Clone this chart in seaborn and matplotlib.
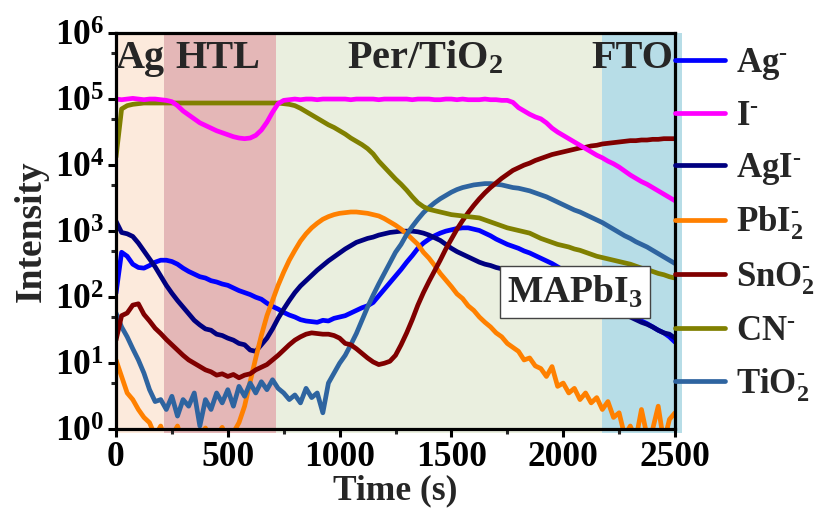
import numpy as np
import pandas as pd
import matplotlib
matplotlib.use("Agg")
import matplotlib.pyplot as plt
import seaborn as sns
from matplotlib.lines import Line2D
from matplotlib.ticker import FixedLocator, FixedFormatter, MultipleLocator

# ---- depth-profile data: sputter time (s) and log10 of secondary-ion counts ----
time_s = np.arange(0, 2501, 25)

log_ag = [2.06, 2.68, 2.62, 2.50, 2.45, 2.44, 2.48, 2.53, 2.56, 2.56,
          2.54, 2.50, 2.44, 2.39, 2.35, 2.31, 2.29, 2.25, 2.23, 2.20,
          2.18, 2.14, 2.10, 2.07, 2.04, 2.00, 1.97, 1.91, 1.86, 1.82,
          1.77, 1.73, 1.70, 1.66, 1.64, 1.63, 1.62, 1.65, 1.64, 1.68,
          1.70, 1.72, 1.76, 1.80, 1.84, 1.87, 1.92, 2.02, 2.12, 2.22,
          2.32, 2.42, 2.53, 2.63, 2.74, 2.82, 2.88, 2.93, 2.97, 3.00,
          3.02, 3.04, 3.05, 3.05, 3.03, 3.01, 2.97, 2.93, 2.88, 2.84,
          2.80, 2.77, 2.74, 2.70, 2.67, 2.63, 2.59, 2.55, 2.51, 2.46,
          2.41, 2.35, 2.29, 2.23, 2.17, 2.11, 2.05, 1.99, 1.93, 1.87,
          1.82, 1.77, 1.72, 1.68, 1.64, 1.60, 1.55, 1.50, 1.46, 1.40,
          1.32]

log_i = [5.00, 4.99, 5.00, 5.01, 5.00, 4.99, 5.00, 5.00, 4.99, 4.98,
         4.96, 4.90, 4.82, 4.76, 4.70, 4.64, 4.60, 4.56, 4.52, 4.49,
         4.46, 4.43, 4.41, 4.40, 4.41, 4.45, 4.53, 4.65, 4.80, 4.93,
         4.98, 4.99, 5.00, 4.99, 5.00, 5.00, 4.99, 5.00, 5.00, 5.00,
         5.00, 5.00, 4.99, 5.00, 5.00, 5.00, 5.00, 4.99, 5.00, 5.00,
         5.00, 5.00, 5.00, 4.99, 5.00, 5.00, 5.00, 4.99, 4.99, 5.00,
         5.00, 4.99, 5.00, 4.99, 4.99, 4.99, 5.00, 4.99, 4.99, 4.98,
         4.98, 4.95, 4.87, 4.82, 4.77, 4.73, 4.70, 4.64, 4.56, 4.50,
         4.45, 4.40, 4.35, 4.30, 4.25, 4.20, 4.15, 4.11, 4.06, 4.02,
         3.97, 3.91, 3.85, 3.80, 3.75, 3.71, 3.66, 3.61, 3.56, 3.51,
         3.46]

log_agi = [3.15, 2.98, 2.96, 2.92, 2.82, 2.70, 2.58, 2.46, 2.32, 2.18,
           2.06, 1.95, 1.85, 1.75, 1.65, 1.58, 1.52, 1.50, 1.44, 1.42,
           1.38, 1.35, 1.30, 1.28, 1.20, 1.18, 1.28, 1.38, 1.52, 1.68,
           1.82, 1.95, 2.07, 2.17, 2.25, 2.33, 2.41, 2.48, 2.55, 2.61,
           2.67, 2.73, 2.78, 2.83, 2.86, 2.89, 2.91, 2.94, 2.96, 2.98,
           2.99, 3.00, 3.00, 3.00, 2.99, 2.97, 2.94, 2.90, 2.86, 2.80,
           2.74, 2.69, 2.65, 2.61, 2.57, 2.53, 2.50, 2.48, 2.45, 2.43,
           2.41, 2.38, 2.35, 2.32, 2.29, 2.26, 2.22, 2.19, 2.15, 2.12,
           2.08, 2.05, 2.02, 1.98, 1.95, 1.92, 1.88, 1.85, 1.82, 1.79,
           1.76, 1.73, 1.70, 1.66, 1.62, 1.59, 1.55, 1.50, 1.46, 1.44,
           1.38]

log_pbi2 = [1.05, 0.80, 0.55, 0.45, 0.30, 0.18, 0.10, -0.10, 0.05, -0.20,
            -0.10, 0.05, -0.20, -0.10, -0.30, -0.10, 0.02, -0.20, -0.10, 0.03,
            -0.20, -0.05, 0.10, 0.35, 0.72, 1.08, 1.42, 1.72, 1.95, 2.18,
            2.38, 2.56, 2.71, 2.85, 2.96, 3.05, 3.12, 3.18, 3.22, 3.25,
            3.27, 3.28, 3.29, 3.29, 3.28, 3.27, 3.25, 3.23, 3.19, 3.14,
            3.09, 3.03, 2.96, 2.88, 2.80, 2.68, 2.59, 2.48, 2.36, 2.26,
            2.16, 2.05, 1.98, 1.87, 1.80, 1.70, 1.62, 1.55, 1.46, 1.40,
            1.30, 1.24, 1.18, 1.05, 1.08, 0.96, 0.92, 0.80, 0.95, 0.65,
            0.70, 0.55, 0.62, 0.45, 0.55, 0.40, 0.48, 0.30, 0.42, 0.18,
            0.25, -0.10, 0.05, -0.15, 0.30, -0.10, 0.00, 0.35, -0.20, 0.15,
            0.25]

log_sno2 = [1.35, 1.72, 1.76, 1.88, 1.90, 1.74, 1.64, 1.53, 1.45, 1.36,
            1.28, 1.20, 1.12, 1.05, 1.00, 0.95, 0.90, 0.87, 0.82, 0.84,
            0.80, 0.83, 0.78, 0.82, 0.84, 0.90, 0.94, 0.98, 1.05, 1.12,
            1.20, 1.28, 1.35, 1.40, 1.44, 1.46, 1.45, 1.44, 1.44, 1.42,
            1.38, 1.30, 1.28, 1.22, 1.15, 1.08, 1.02, 0.98, 1.00, 1.03,
            1.12, 1.28, 1.46, 1.66, 1.88, 2.07, 2.24, 2.40, 2.56, 2.73,
            2.88, 3.03, 3.16, 3.28, 3.39, 3.49, 3.58, 3.66, 3.73, 3.80,
            3.86, 3.92, 3.96, 4.00, 4.03, 4.07, 4.10, 4.13, 4.16, 4.18,
            4.20, 4.22, 4.24, 4.26, 4.27, 4.29, 4.30, 4.32, 4.33, 4.34,
            4.35, 4.36, 4.37, 4.37, 4.38, 4.38, 4.39, 4.39, 4.40, 4.40,
            4.40]

log_cn = [4.12, 4.85, 4.90, 4.92, 4.93, 4.94, 4.94, 4.94, 4.94, 4.94,
          4.94, 4.94, 4.94, 4.94, 4.94, 4.94, 4.94, 4.94, 4.94, 4.94,
          4.94, 4.94, 4.94, 4.94, 4.94, 4.94, 4.94, 4.94, 4.94, 4.94,
          4.93, 4.92, 4.90, 4.86, 4.81, 4.76, 4.71, 4.66, 4.61, 4.57,
          4.52, 4.47, 4.41, 4.36, 4.31, 4.25, 4.17, 4.06, 3.97, 3.88,
          3.79, 3.71, 3.62, 3.52, 3.43, 3.37, 3.33, 3.31, 3.29, 3.27,
          3.25, 3.24, 3.23, 3.22, 3.21, 3.20, 3.17, 3.14, 3.11, 3.08,
          3.05, 3.03, 3.01, 2.99, 2.97, 2.93, 2.89, 2.86, 2.83, 2.80,
          2.78, 2.76, 2.73, 2.71, 2.68, 2.65, 2.62, 2.60, 2.58, 2.56,
          2.54, 2.52, 2.50, 2.47, 2.44, 2.42, 2.39, 2.36, 2.34, 2.31,
          2.29]

log_tio2 = [1.76, 1.55, 1.40, 1.22, 1.05, 0.85, 0.60, 0.42, 0.45, 0.30,
            0.50, 0.20, 0.45, 0.35, 0.55, 0.05, 0.45, 0.30, 0.55, 0.40,
            0.60, 0.35, 0.65, 0.50, 0.70, 0.55, 0.72, 0.60, 0.75, 0.62,
            0.55, 0.45, 0.52, 0.40, 0.62, 0.48, 0.55, 0.25, 0.70, 0.85,
            1.00, 1.12, 1.28, 1.45, 1.65, 1.85, 2.03, 2.20, 2.36, 2.52,
            2.68, 2.80, 2.95, 3.07, 3.18, 3.28, 3.36, 3.43, 3.49, 3.54,
            3.59, 3.63, 3.66, 3.68, 3.70, 3.71, 3.72, 3.72, 3.71, 3.70,
            3.68, 3.66, 3.65, 3.63, 3.61, 3.58, 3.55, 3.52, 3.48, 3.44,
            3.40, 3.36, 3.32, 3.29, 3.25, 3.21, 3.17, 3.13, 3.08, 3.03,
            2.98, 2.93, 2.89, 2.84, 2.80, 2.76, 2.71, 2.66, 2.61, 2.56,
            2.51]

species = ["Ag$^{\\text{-}}$", "I$^{\\text{-}}$", "AgI$^{\\text{-}}$",
           "PbI$_2^{\\text{-}}$", "SnO$_2^{\\text{-}}$", "CN$^{\\text{-}}$",
           "TiO$_2^{\\text{-}}$"]
species_logs = [log_ag, log_i, log_agi, log_pbi2, log_sno2, log_cn, log_tio2]
species_colors = ["#0000FF", "#FF00FF", "#000080", "#FF8000",
                  "#800000", "#808000", "#2E64A0"]
# stacking order of the traces, by index into `species` (first drawn is lowest)
draw_index = [0, 2, 3, 6, 4, 5, 1]

# layer regions along the sputter-time axis
layer_names = ["Ag", "HTL", "Per/TiO$_2$", "FTO"]
layer_edges = [0, 215, 715, 2175, 2530]
layer_colors = ["#FCEADC", "#E4B7B7", "#EAEFDF", "#B7DDE7"]
layer_label_x = [107, 456, 1382, 2311]

x_ticks = [0, 500, 1000, 1500, 2000, 2500]
y_exponents = [0, 1, 2, 3, 4, 5, 6]

# ---- style ----
sns.set_style("ticks")
plt.rcParams["font.family"] = ["Liberation Serif", "DejaVu Serif"]
plt.rcParams["font.weight"] = "bold"
plt.rcParams["axes.labelweight"] = "bold"
plt.rcParams["mathtext.fontset"] = "custom"
plt.rcParams["mathtext.rm"] = "Liberation Serif:bold"
plt.rcParams["mathtext.bf"] = "Liberation Serif:bold"
plt.rcParams["mathtext.it"] = "Liberation Serif:bold:italic"
plt.rcParams["mathtext.default"] = "rm"

rows = []
for name, logs in zip(species, species_logs):
    for t, v in zip(time_s, logs):
        rows.append({"Time": t, "Intensity": 10.0 ** v, "Species": name})
df = pd.DataFrame(rows)
palette = dict(zip(species, species_colors))
draw_order = [species[k] for k in draw_index]

fig = plt.figure(figsize=(8.17, 5.21), dpi=100)
ax = fig.add_axes([116 / 817, 1 - 429.3 / 521, (675 - 116) / 817, (429.3 - 33) / 521])

for (a, b), c in zip(zip(layer_edges[:-1], layer_edges[1:]), layer_colors):
    span = ax.axvspan(a, b, ymin=-0.01, ymax=1.0, color=c, lw=0, zorder=0)
    span.set_clip_on(False)

sns.lineplot(data=df, x="Time", y="Intensity", hue="Species",
             hue_order=draw_order, palette=palette, estimator=None,
             sort=False, linewidth=3.4, legend=False, ax=ax, zorder=2)

ax.set_yscale("log")
ax.set_xlim(0, 2500)
ax.set_ylim(1, 1e6)

ax.xaxis.set_major_locator(FixedLocator(x_ticks))
ax.xaxis.set_major_formatter(FixedFormatter([str(v) for v in x_ticks]))
ax.xaxis.set_minor_locator(MultipleLocator(250))
ax.yaxis.set_major_locator(FixedLocator([10.0 ** e for e in y_exponents]))
ax.yaxis.set_major_formatter(FixedFormatter([r"$10^{%d}$" % e for e in y_exponents]))
ax.yaxis.set_minor_locator(FixedLocator([5 * 10.0 ** e for e in y_exponents[:-1]]))

ax.tick_params(axis="both", which="major", direction="out", length=5.5,
               width=2.2, labelsize=25.5, pad=3, colors="black")
ax.tick_params(axis="both", which="minor", direction="out", length=3.5,
               width=2.2)
for s in ax.spines.values():
    s.set_linewidth(2.3)
    s.set_color("black")
    s.set_zorder(5)

ax.set_xlabel("Time (s)", fontsize=25.5, fontweight="bold", labelpad=0)
ax.set_ylabel("Intensity", fontsize=27, fontweight="bold", labelpad=4)

for name, xc in zip(layer_names, layer_label_x):
    ax.text(xc, 10 ** 5.47, name, ha="center", va="baseline",
            fontsize=29, fontweight="bold", zorder=6)

ax.text(2052, 120, "MAPbI$_3$", ha="center", va="center", fontsize=27,
        fontweight="bold", zorder=7,
        bbox=dict(boxstyle="square,pad=0.2", fc="white", ec="#444444", lw=1.0))

handles = [Line2D([], [], color=c, lw=3.4) for c in species_colors]
leg = ax.legend(handles, species, loc="upper left", bbox_to_anchor=(1.0, 0.968),
                frameon=False, fontsize=25, handlelength=1.45, handletextpad=0.3,
                labelspacing=0.52, borderpad=0.0, borderaxespad=0.0)

fig.savefig("out.png", dpi=100)
